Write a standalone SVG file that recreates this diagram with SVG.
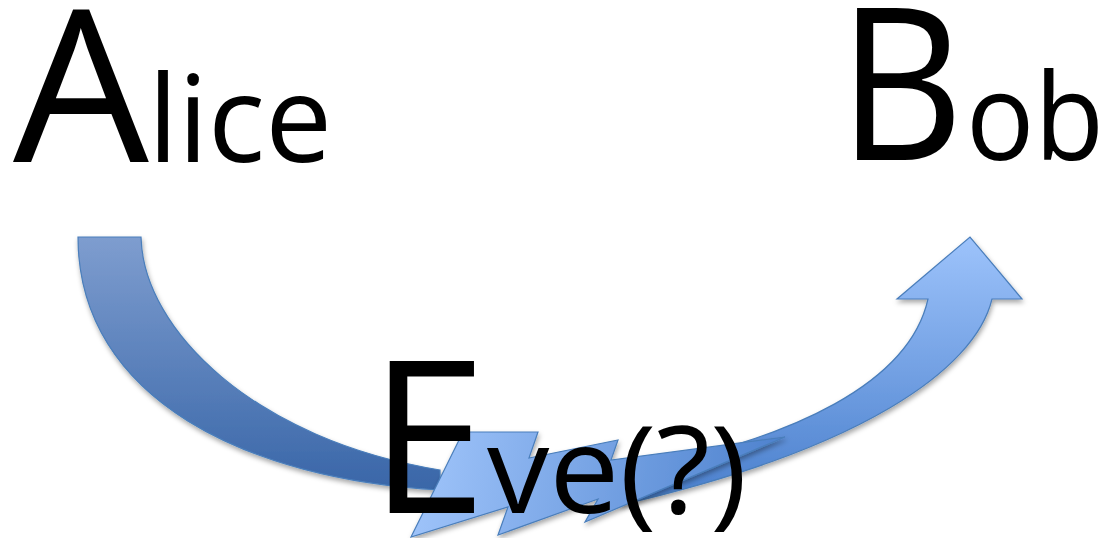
<svg xmlns="http://www.w3.org/2000/svg" width="1105" height="538" viewBox="0 0 1105 538">
<style>
.big{font-family:"Open Sans","Liberation Sans",sans-serif;font-size:212px;fill:#000}
.small{font-family:"Open Sans","Liberation Sans",sans-serif;font-size:120px;fill:#000}
.shape{stroke:#4a7ebb;stroke-width:1.2;stroke-linejoin:miter}
</style>
<defs>
<linearGradient id="gLeft" x1="0" y1="237" x2="0" y2="490" gradientUnits="userSpaceOnUse">
<stop offset="0" stop-color="#7e9dcf"/><stop offset="1" stop-color="#3966a8"/>
</linearGradient>
<linearGradient id="gRight" x1="0" y1="237" x2="0" y2="510" gradientUnits="userSpaceOnUse">
<stop offset="0" stop-color="#9dc3fb"/><stop offset="1" stop-color="#477dcb"/>
</linearGradient>
<linearGradient id="gBolt" x1="420" y1="440" x2="790" y2="500" gradientUnits="userSpaceOnUse">
<stop offset="0" stop-color="#9fc4fa"/><stop offset="1" stop-color="#4a7fcc"/>
</linearGradient>
<filter id="sh" x="-10%" y="-10%" width="120%" height="130%">
<feDropShadow dx="1" dy="3" stdDeviation="2.5" flood-color="#000" flood-opacity="0.35"/>
</filter>
</defs>
<g id="connectors">
<path id="arrow-alice" class="shape" fill="url(#gLeft)" filter="url(#sh)" d="M78,237 L141,237 C143,330 255,440 440,470 L440,490 C250,480 78,400 78,237 Z"/>
<path id="arrow-bob" class="shape" fill="url(#gRight)" filter="url(#sh)" d="M620,472 C800,440 910,380 928,299 L897,299 L970,237 L1022,299 L992,299 C975,370 860,450 620,505 Z"/>
<path id="bolt" class="shape" fill="url(#gBolt)" filter="url(#sh)" d="M411,537 L463,432 L538,432 L529,458 L618,440 L611,460 L785,437 L585,522 L598,499 L498,535 L508,507 Z"/>
</g>
<g id="alice">
<text class="big" x="13" y="162" textLength="136" lengthAdjust="spacingAndGlyphs">A</text>
<text class="small" x="148" y="162" textLength="184" lengthAdjust="spacingAndGlyphs">lice</text>
</g>
<g id="bob">
<text class="big" x="838" y="160" textLength="126" lengthAdjust="spacingAndGlyphs">B</text>
<text class="small" x="966" y="160" textLength="138" lengthAdjust="spacingAndGlyphs">ob</text>
</g>
<g id="eve">
<text class="big" x="369" y="513">E</text>
<text class="small" x="487" y="513" textLength="260" lengthAdjust="spacingAndGlyphs">ve(?)</text>
</g>
</svg>
